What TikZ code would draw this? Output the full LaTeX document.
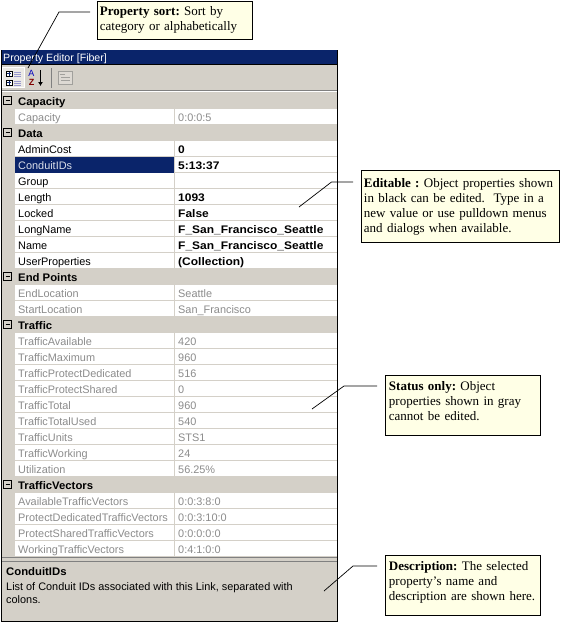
\documentclass[tikz,border=0pt]{standalone}
\usepackage{fontspec}
\usetikzlibrary{arrows.meta}
\setmainfont{Liberation Serif}
\newfontfamily\uifont{Liberation Sans}
\newfontfamily\valfont[FakeStretch=1.09]{Liberation Sans Bold}
\newfontfamily\groupfont[FakeStretch=1.03]{Liberation Sans Bold}
\definecolor{panelgray}{HTML}{D4D0C8}
\definecolor{navy}{HTML}{0A246A}
\definecolor{noteyellow}{HTML}{FFFFE6}
\definecolor{dimtext}{HTML}{8C8C8C}
\tikzset{
  ui/.style={font=\uifont\fontsize{10.9}{12}\selectfont,inner sep=0pt,anchor=base west},
  rowlabel/.style={ui,text=black},
  groupname/.style={ui,font=\groupfont\fontsize{11}{12}\selectfont},
  editval/.style={ui,font=\valfont\fontsize{11}{12}\selectfont},
  dim/.style={ui,text=dimtext},
  note/.style={draw=black,line width=.9pt,fill=noteyellow,anchor=north west,align=left,inner sep=0pt,
    font=\frenchspacing\fontsize{13}{15}\selectfont},
  leader/.style={draw=black,line width=.7pt},
  sep/.style={draw=panelgray,line width=1pt},
}
\newcommand\grouprow[3]{% id, y, name
  \fill[panelgray] (1.5,#2-8) rectangle (337,#2+8);
  \draw[line width=.8pt] (3.5,#2-4.5) rectangle (11.5,#2+3.5);
  \draw[line width=.8pt] (5.5,#2-.5) -- (9.5,#2-.5);
  \node[groupname] (#1) at (18,#2+4) {#3};
}
\newcommand\proprow[6]{% id, y, label, value, label style, value style
  \fill[white] (15,#2-8) rectangle (337,#2+8);
  \draw[sep] (15,#2+7.5) -- (337,#2+7.5);
  \draw[sep] (174.5,#2-8) -- (174.5,#2+8);
  \node[#5] (#1-k) at (18,#2+4) {#3};
  \node[#6] (#1-v) at (178,#2+4) {#4};
}
\begin{document}
\begin{tikzpicture}[x=1pt,y=-1pt]
\useasboundingbox (0,0) rectangle (565,622);
\fill[white] (0,0) rectangle (565,622);
% panel
\fill[panelgray] (1,64) rectangle (337.5,621);
\fill[navy] (1,50) rectangle (338,64);
\node[ui,text=white,font=\uifont\fontsize{10.6}{12}\selectfont] (title) at (3,61) {Property Editor [Fiber]};
% toolbar
\draw[draw=white,fill=white!55!panelgray] (2.5,67.5) rectangle (24.5,87.5);
\draw[line width=.6pt,fill=white] (6,71) rectangle (12,76.5);
\draw[line width=.6pt,fill=white] (6,80) rectangle (12,85.5);
\draw[navy,line width=.7pt] (7.2,73.7) -- (10.8,73.7) (9,72) -- (9,75.5) (7.2,82.7) -- (10.8,82.7) (9,81) -- (9,84.5);
\draw[blue!35!gray!60,line width=.7pt] (14,72) -- (21,72) (14,74) -- (21,74) (14,76) -- (21,76) (14,81) -- (21,81) (14,83) -- (21,83) (14,85) -- (21,85);
\node[font=\uifont\fontsize{9}{9}\selectfont,text=blue!75!black,inner sep=0pt] (iconA) at (31.5,73.5) {A};
\node[font=\uifont\bfseries\fontsize{9}{9}\selectfont,text=red!50!black,inner sep=0pt] (iconZ) at (31.5,82.5) {Z};
\draw[line width=1.1pt,-{Latex[length=4pt,width=5pt]}] (40.5,70) -- (40.5,86);
\draw[draw=gray,line width=.8pt] (51.5,68) -- (51.5,88);
\draw[draw=gray!60!panelgray,fill=panelgray!80!white,line width=.8pt] (58,71) rectangle (72.5,84);
\draw[draw=gray!60!panelgray,line width=.8pt] (60,74) -- (65,74) (61,77) -- (70,77) (61,80) -- (70,80);
\draw[draw=gray,line width=.7pt] (1.5,90) -- (337,90);
\draw[draw=white,line width=.7pt] (1.5,91) -- (337,91);
% rows
\grouprow{gcap}{101}{Capacity}
\proprow{capacity}{117}{Capacity}{0:0:0:5}{dim}{dim}
\grouprow{gdata}{133}{Data}
\proprow{admin}{149}{AdminCost}{0}{rowlabel}{editval}
\proprow{conduit}{165}{}{5:13:37}{rowlabel}{editval}
\fill[navy] (15,157) rectangle (174,172.5);
\node[ui,text=white!85!navy] (conduit-k2) at (18,169) {ConduitIDs};
\proprow{group}{181}{Group}{}{rowlabel}{editval}
\proprow{length}{197}{Length}{1093}{rowlabel}{editval}
\proprow{locked}{213}{Locked}{False}{rowlabel}{editval}
\proprow{longname}{229}{LongName}{F\_San\_Francisco\_Seattle}{rowlabel}{editval}
\proprow{name}{245}{Name}{F\_San\_Francisco\_Seattle}{rowlabel}{editval}
\proprow{userprops}{261}{UserProperties}{(Collection)}{rowlabel}{editval}
\grouprow{gend}{277}{End Points}
\proprow{endloc}{293}{EndLocation}{Seattle}{dim}{dim}
\proprow{startloc}{309}{StartLocation}{San\_Francisco}{dim}{dim}
\grouprow{gtraffic}{325}{Traffic}
\proprow{tavail}{341}{TrafficAvailable}{420}{dim}{dim}
\proprow{tmax}{357}{TrafficMaximum}{960}{dim}{dim}
\proprow{tpd}{373}{TrafficProtectDedicated}{516}{dim}{dim}
\proprow{tps}{389}{TrafficProtectShared}{0}{dim}{dim}
\proprow{ttotal}{405}{TrafficTotal}{960}{dim}{dim}
\proprow{tused}{421}{TrafficTotalUsed}{540}{dim}{dim}
\proprow{tunits}{437}{TrafficUnits}{STS1}{dim}{dim}
\proprow{tworking}{453}{TrafficWorking}{24}{dim}{dim}
\proprow{util}{469}{Utilization}{56.25\%}{dim}{dim}
\grouprow{gvec}{485}{TrafficVectors}
\proprow{vavail}{501}{AvailableTrafficVectors}{0:0:3:8:0}{dim}{dim}
\proprow{vpd}{517}{ProtectDedicatedTrafficVectors}{0:0:3:10:0}{dim}{dim}
\proprow{vps}{533}{ProtectSharedTrafficVectors}{0:0:0:0:0}{dim}{dim}
\proprow{vw}{549}{WorkingTrafficVectors}{0:4:1:0:0}{dim}{dim}
% description pane
\fill[panelgray] (1.5,557) rectangle (337,621);
\draw[draw=gray,line width=.7pt] (1.5,557.5) -- (337,557.5);
\draw[draw=gray,line width=.7pt] (1.5,561.5) -- (337,561.5);
\node[groupname] (desctitle) at (6,575) {ConduitIDs};
\node[ui] (desc1) at (6,590) {List of Conduit IDs associated with this Link, separated with};
\node[ui] (desc2) at (6,603) {colons.};
% frame
\draw[line width=1pt] (1,64) -- (337.5,64);
\draw[line width=1pt] (1,50) -- (1,621) -- (337.5,621) -- (337.5,50);
% notes
\node[note,minimum width=155pt,minimum height=38pt,text width=149pt] (nsort) at (96.5,.5)
  {\textbf{Property sort:} Sort by\\category or alphabetically};
\node[note,minimum width=198pt,minimum height=72pt,text width=192pt] (nedit) at (360.5,170)
  {\textbf{Editable :} Object properties shown\\in black can be edited.\ \ Type in a\\new value or use pulldown menus\\and dialogs when available.};
\node[note,minimum width=155pt,minimum height=60pt,text width=147pt] (nstatus) at (384.5,374.5)
  {\textbf{Status only:} Object\\properties shown in gray\\cannot be edited.\\[-8pt]\mbox{}};
\node[note,minimum width=155pt,minimum height=60pt,text width=147pt] (ndesc) at (384.5,554.5)
  {\textbf{Description:} The selected\\property’s name and\\description are shown here.\\[-8pt]\mbox{}};
% leaders
\coordinate (sa) at (90,12); \coordinate (sb) at (59,12); \coordinate (sc) at (28,68);
\coordinate (ea) at (353,182); \coordinate (eb) at (331.5,182); \coordinate (ec) at (299,207);
\coordinate (ta) at (377,386); \coordinate (tb) at (344,386); \coordinate (tc) at (312,409);
\coordinate (da) at (377,566); \coordinate (db) at (353,566); \coordinate (dc) at (324,591);
\draw[leader] (sa) -- (sb) -- (sc);
\draw[leader] (ea) -- (eb) -- (ec);
\draw[leader] (ta) -- (tb) -- (tc);
\draw[leader] (da) -- (db) -- (dc);
\end{tikzpicture}
\end{document}
